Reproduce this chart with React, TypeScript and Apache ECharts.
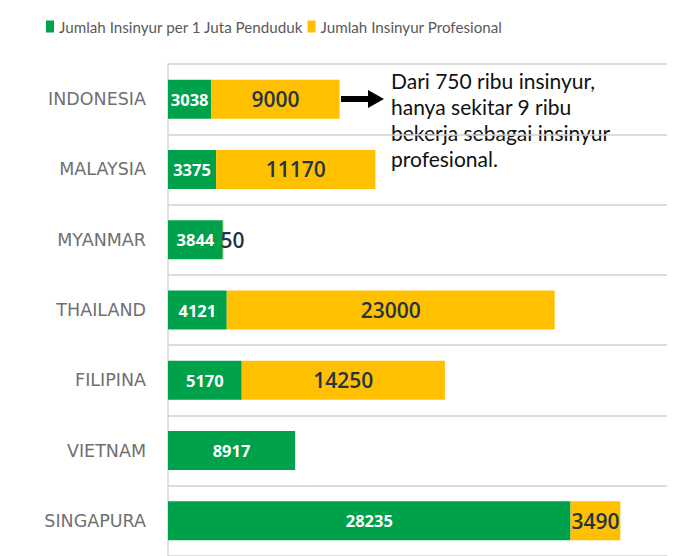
import React, { useEffect, useRef } from "react";
import * as echarts from "echarts";

const categories = ["INDONESIA", "MALAYSIA", "MYANMAR", "THAILAND", "FILIPINA", "VIETNAM", "SINGAPURA"];
const perMillion = [3038, 3375, 3844, 4121, 5170, 8917, 28235];
const professional: (number | null)[] = [9000, 11170, 50, 23000, 14250, null, 3490];
const seriesNames = ["Jumlah Insinyur per 1 Juta Penduduk", "Jumlah Insinyur Profesional"];
const noteLines = ["Dari 750 ribu insinyur,", "hanya sekitar 9 ribu", "bekerja sebagai insinyur", "profesional."];

const GREEN = "#00A14B";
const YELLOW = "#FFC000";
const DARK = "#243444";

export default function App() {
  const ref = useRef<HTMLDivElement>(null);
  useEffect(() => {
    if (!ref.current) return;
    const chart = echarts.init(ref.current, undefined, { renderer: "svg" });
    chart.setOption({
      animation: false,
      backgroundColor: "#ffffff",
      legend: {
        top: 14,
        left: 41,
        itemWidth: 8,
        itemHeight: 12,
        itemGap: 4,
        icon: "rect",
        textStyle: { fontFamily: "Lato", fontSize: 15.2, color: "#595959" },
        data: seriesNames,
      },
      grid: { left: 168, right: 11, top: 64, height: 500, containLabel: false },
      xAxis: { type: "value", min: 0, max: 35000, show: false },
      yAxis: {
        type: "category",
        data: categories,
        inverse: true,
        axisLine: { show: true, lineStyle: { color: "#d6d6d6", width: 1.5 } },
        axisTick: { show: false },
        splitLine: { show: true, lineStyle: { color: "#d0d0d0", width: 1.5 } },
        axisLabel: { margin: 22, fontFamily: "DejaVu Sans", fontSize: 17.5, color: "#707070" },
      },
      graphic: [
        {
          type: "text",
          z: -10,
          left: 391,
          top: 67,
          style: {
            text: noteLines.join("\n"),
            fontFamily: "Lato",
            fontSize: 21,
            lineHeight: 26,
            fill: "#111111",
          },
        },
        { type: "rect", shape: { x: 341, y: 96, width: 29, height: 6 }, style: { fill: "#000" } },
        { type: "polygon", shape: { points: [[368, 90], [384, 99], [368, 108]] }, style: { fill: "#000" } },
      ],
      series: [
        {
          name: seriesNames[0],
          type: "bar",
          stack: "total",
          barWidth: 39,
          itemStyle: { color: GREEN },
          label: {
            show: true,
            position: "inside",
            color: "#ffffff",
            fontFamily: "Open Sans",
            fontWeight: "bold",
            fontSize: 16.5,
          },
          data: perMillion,
        },
        {
          name: seriesNames[1],
          type: "bar",
          stack: "total",
          barWidth: 39,
          itemStyle: { color: YELLOW },
          label: {
            show: true,
            position: "inside",
            color: DARK,
            fontFamily: "Open Sans",
            fontWeight: 600,
            fontSize: 21,
            formatter: (p: any) => (p.value == null ? "" : String(p.value)),
          },
          data: professional.map((v, i) =>
            i === 2
              ? { value: v, label: { position: "right", distance: -3 } }
              : v
          ),
        },
      ],
    });
    return () => chart.dispose();
  }, []);
  return (
    <div
      ref={ref}
      style={{ position: "absolute", left: 0, top: 0, width: 678, height: 556 }}
    />
  );
}
